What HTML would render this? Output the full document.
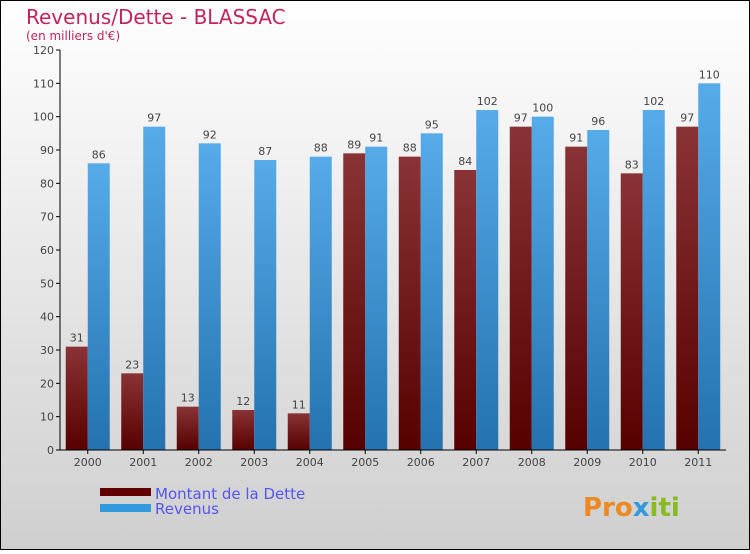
<!DOCTYPE html>
<html><head><meta charset="utf-8"><style>
body{margin:0;}
#c{width:750px;height:550px;position:relative;font-family:"DejaVu Sans","Liberation Sans",sans-serif;}
</style></head><body>
<div id="c">
<svg id="s" width="750" height="550" xmlns="http://www.w3.org/2000/svg">
<defs>
<linearGradient id="bg" x1="0" y1="0" x2="0" y2="1"><stop offset="0" stop-color="#ffffff"/><stop offset="1" stop-color="#cfcfcf"/></linearGradient>
<linearGradient id="gd" x1="0" y1="0" x2="0" y2="1"><stop offset="0" stop-color="#8a3336"/><stop offset="1" stop-color="#560000"/></linearGradient>
<linearGradient id="gr" x1="0" y1="0" x2="0" y2="1"><stop offset="0" stop-color="#56abe8"/><stop offset="1" stop-color="#2472b0"/></linearGradient>
</defs>
<rect x="0.5" y="0.5" width="749" height="549" fill="url(#bg)" stroke="#000"/>
<text x="26" y="24" font-size="20" fill="#c0245a">Revenus/Dette - BLASSAC</text>
<text x="26" y="40" font-size="12" fill="#c0245a">(en milliers d'€)</text>
<g id="plot"></g>
<rect x="100" y="488" width="51" height="8" fill="#600000"/>
<rect x="100" y="504" width="51" height="8" fill="#3399dd"/>
<text x="155" y="499" font-size="15" fill="#5555ee">Montant de la Dette</text>
<text x="155" y="514" font-size="15" fill="#5555ee">Revenus</text>
<text x="583" y="516" font-size="26" font-weight="bold" fill="#ee8822">Pro<tspan fill="#3399dd">x</tspan><tspan fill="#88bb22">iti</tspan></text>
</svg></div>
<script>
const years=["2000","2001","2002","2003","2004","2005","2006","2007","2008","2009","2010","2011"];
const dette=[31,23,13,12,11,89,88,84,97,91,83,97];
const revenus=[86,97,92,87,88,91,95,102,100,96,102,110];
const yTicks=[0,10,20,30,40,50,60,70,80,90,100,110,120];
const NS="http://www.w3.org/2000/svg";
const g=document.getElementById('plot');
const x0=60,x1=726,y0=450,y1=50,ymax=120;
const bw=(x1-x0)/years.length;
const Y=v=>y0-(v/ymax)*(y0-y1);
function mk(t,a,p){const e=document.createElementNS(NS,t);for(const k in a)e.setAttribute(k,a[k]);(p||g).appendChild(e);return e;}
yTicks.forEach(v=>{
 const l=mk('line',{x1:x0-4,x2:x0,y1:Y(v),y2:Y(v),stroke:'#000'});
 
 
 const t=mk('text',{x:x0-6,y:Y(v)+4,'text-anchor':'end','font-size':11,fill:'#444'});
 t.textContent=v;
 
 
});
years.forEach((yr,i)=>{
 const c=x0+bw*(i+0.5);
 const r1=mk('rect',{x:c-22,y:Y(dette[i]),width:22,height:y0-Y(dette[i]),fill:'url(#gd)'});
 
 
 const r2=mk('rect',{x:c,y:Y(revenus[i]),width:22,height:y0-Y(revenus[i]),fill:'url(#gr)'});
 
 
 const t1=mk('text',{x:c-11,y:Y(dette[i])-5,'text-anchor':'middle','font-size':11,fill:'#444'});
 t1.textContent=dette[i];
 
 
 const t2=mk('text',{x:c+11,y:Y(revenus[i])-5,'text-anchor':'middle','font-size':11,fill:'#444'});
 t2.textContent=revenus[i];
 
 
 const tk=mk('line',{x1:c,x2:c,y1:y0,y2:y0+4,stroke:'#000'});
 
 
 const xl=mk('text',{x:c,y:y0+16,'text-anchor':'middle','font-size':11,fill:'#444'});
 xl.textContent=yr;
 
 
});
const ya=mk('line',{x1:x0,x2:x0,y1:y1,y2:y0,stroke:'#000'});


const xa=mk('line',{x1:x0,x2:x1,y1:y0,y2:y0,stroke:'#000'});


</script>
</body></html>
